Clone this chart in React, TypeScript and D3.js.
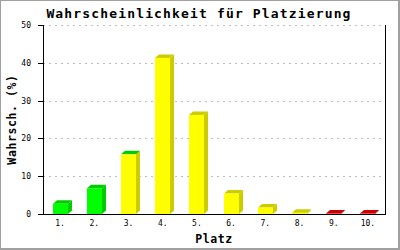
import React from "react";
import * as d3 from "d3";

const categories = ["1.", "2.", "3.", "4.", "5.", "6.", "7.", "8.", "9.", "10."];
const values = [2.7, 6.8, 15.8, 41.3, 26.2, 5.4, 1.7, 0.3, 0.1, 0.1];
const frontColors = ["#00ff00", "#00ff00", "#ffff00", "#ffff00", "#ffff00", "#ffff00", "#ffff00", "#ffff00", "#ff0000", "#ff0000"];
const sideColors = ["#00cc00", "#00cc00", "#cccc00", "#cccc00", "#cccc00", "#cccc00", "#cccc00", "#cccc00", "#cc0000", "#cc0000"];
const topColors = ["#00cc00", "#00cc00", "#00cc00", "#cccc00", "#cccc00", "#cccc00", "#cccc00", "#cccc00", "#cc0000", "#cc0000"];
const yTicks = [0, 10, 20, 30, 40, 50];
const title = "Wahrscheinlichkeit für Platzierung";
const xTitle = "Platz";
const yTitle = "Wahrsch. (%)";

const W = 400;
const H = 250;
const left = 43;
const right = 385;
const top = 25;
const bottom = 214;

export default function App() {
  const x = d3.scaleBand<string>().domain(categories).range([left, right]).padding(0);
  const y = d3.scaleLinear().domain([0, 50]).range([bottom, top]);
  const bw = 15;
  const dx = 4;
  const dy = 3.5;
  const mono = "'DejaVu Sans Mono', 'Liberation Mono', monospace";

  return (
    <svg width={W} height={H} style={{ position: "fixed", left: 0, top: 0, background: "#fff" }}>
      <rect x={0} y={0} width={W} height={H} fill="#fff" />
      {/* grid */}
      {yTicks.filter((t) => t > 0).map((t) => (
        <line key={"g" + t} x1={left} x2={right} y1={Math.round(y(t)) + 0.5} y2={Math.round(y(t)) + 0.5}
          stroke="#c0c0c0" strokeWidth={1} strokeDasharray="2,4" />
      ))}
      {/* bars */}
      {values.map((v, i) => {
        const c = (x(categories[i]) as number) + x.bandwidth() / 2;
        const x0 = Math.round(c - bw / 2);
        const x1 = x0 + bw;
        const yt = y(v);
        const yb = y(0);
        return (
          <g key={"b" + i}>
            <polygon points={`${x1},${yb} ${x1 + dx},${yb - dy} ${x1 + dx},${yt - dy} ${x1},${yt}`} fill={sideColors[i]} />
            <polygon points={`${x0},${yt} ${x0 + dx},${yt - dy} ${x1 + dx},${yt - dy} ${x1},${yt}`} fill={topColors[i]} />
            <rect x={x0} y={yt} width={bw} height={Math.max(0, yb - yt)} fill={frontColors[i]} />
          </g>
        );
      })}
      {/* axes */}
      <line x1={left + 0.5} x2={left + 0.5} y1={top} y2={bottom + 1} stroke="#000" />
      <line x1={right + 0.5} x2={right + 0.5} y1={top} y2={bottom + 1} stroke="#000" />
      <line x1={left} x2={right + 1} y1={bottom + 0.5} y2={bottom + 0.5} stroke="#000" />
      {yTicks.map((t) => (
        <g key={"t" + t}>
          <line x1={left - 5} x2={left} y1={Math.round(y(t)) + 0.5} y2={Math.round(y(t)) + 0.5} stroke="#000" />
          <text x={31} y={y(t) + 3} textAnchor="end" fontFamily={mono} fontSize={8} fill="#000">{t}</text>
        </g>
      ))}
      {categories.map((cat) => (
        <text key={"x" + cat} x={(x(cat) as number) + x.bandwidth() / 2} y={226} textAnchor="middle"
          fontFamily={mono} fontSize={8} fill="#000">{cat}</text>
      ))}
      {/* titles */}
      <text x={199} y={18} textAnchor="middle" fontFamily={mono} fontWeight="bold" fontSize={13}
        letterSpacing={1.15} fill="#000">{title}</text>
      <text x={214} y={243} textAnchor="middle" fontFamily={mono} fontWeight="bold" fontSize={11.5}
        letterSpacing={0.6} fill="#000">{xTitle}</text>
      <text transform={`translate(16,${(top + bottom) / 2}) rotate(-90)`} textAnchor="middle" fontFamily={mono}
        fontWeight="bold" fontSize={11.5} letterSpacing={0.6} fill="#000">{yTitle}</text>
      {/* frame */}
      <line x1={0} x2={W} y1={0.5} y2={0.5} stroke="#a0a0a0" />
      <line x1={0.5} x2={0.5} y1={0} y2={H} stroke="#a0a0a0" />
      <line x1={W - 1} x2={W - 1} y1={0} y2={H} stroke="#a0a0a0" strokeWidth={2} />
      <line x1={0} x2={W} y1={H - 1} y2={H - 1} stroke="#a0a0a0" strokeWidth={2} />
    </svg>
  );
}
